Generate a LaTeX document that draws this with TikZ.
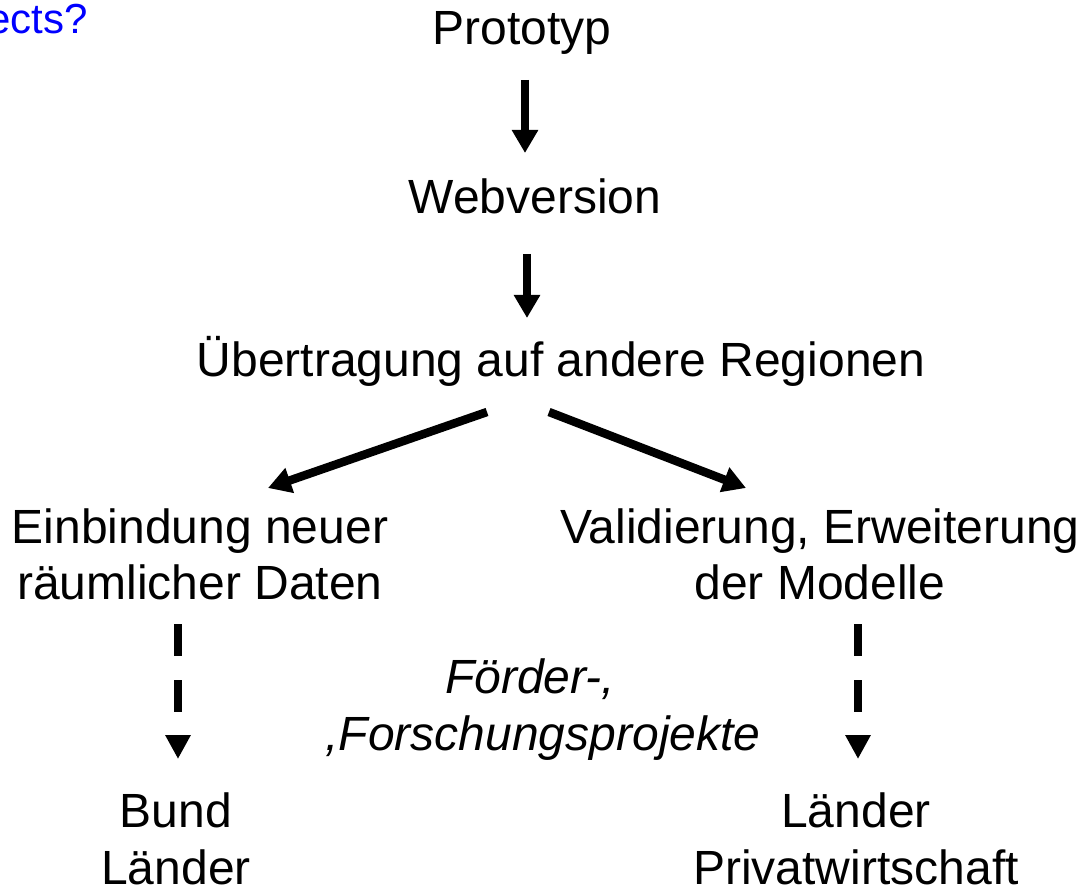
\documentclass[tikz,border=0pt]{standalone}
\usepackage{fontspec}
\setmainfont{Liberation Sans}
\usetikzlibrary{arrows.meta,calc}
\begin{document}
\begin{tikzpicture}[x=0.5pt,y=-0.5pt,
  txt/.style={inner sep=0pt,anchor=base,font=\fontsize{24pt}{28pt}\selectfont},
  itxt/.style={txt,font=\fontsize{24pt}{28pt}\selectfont\itshape},
  bluetxt/.style={inner sep=0pt,anchor=base east,text={rgb,255:red,0;green,0;blue,255},font=\fontsize{21pt}{25pt}\selectfont},
  arr/.style={line width=4.25pt,-{Triangle[length=11.5pt,width=12.5pt]}},
  darr/.style={line width=4pt,dash pattern=on 16pt off 12pt,-{Triangle[length=12pt,width=12pt]}}]
\useasboundingbox (0,0) rectangle (1086,892);
\node[bluetxt] (ects) at (88,34) {ects?};
\node[txt] (proto) at (522,45) {Prototyp};
\node[txt] (web) at (535,214) {Webversion};
\node[txt] (uebert) at (561,377) {Übertragung auf andere Regionen};
\node[txt] (einb1) at (200,544) {Einbindung neuer};
\node[txt] (einb2) at (200,599) {räumlicher Daten};
\node[txt] (vali1) at (820,544) {Validierung, Erweiterung};
\node[txt] (vali2) at (820,599) {der Modelle};
\node[itxt] (foerd1) at (530,693) {Förder-,};
\node[itxt] (foerd2) at (543,750) {,Forschungsprojekte};
\node[txt] (bund) at (176,827) {Bund};
\node[txt] (laenderL) at (176,884) {Länder};
\node[txt] (laenderR) at (856,827) {Länder};
\node[txt] (privat) at (856,884) {Privatwirtschaft};
\draw[arr] ($(proto.base)+(3,35)$) -- ($(web.base)+(-10,-61)$);
\draw[arr] ($(web.base)+(-8,40)$) -- ($(uebert.base)+(-34,-59)$);
\draw[arr] ($(uebert.base)+(-74,35)$) -- ($(einb1.base)+(68,-56)$);
\draw[arr] ($(uebert.base)+(-12,35)$) -- ($(vali1.base)+(-74,-56)$);
\draw[darr] ($(einb2.base)+(-22,25)$) -- ($(bund.base)+(2,-68)$);
\draw[darr] ($(vali2.base)+(38,25)$) -- ($(laenderR.base)+(2,-68)$);
\end{tikzpicture}
\end{document}
